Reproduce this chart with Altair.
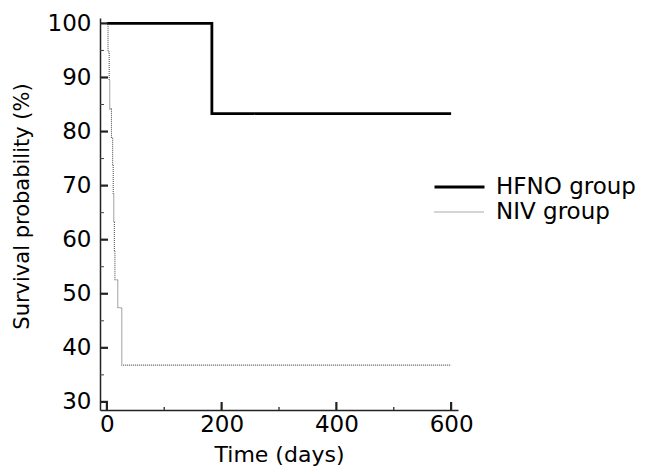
import altair as alt
import pandas as pd

# Kaplan-Meier step data
hfno_time = [0, 183, 600]
hfno_surv = [100.0, 83.3, 83.3]

niv_time = [0, 2, 4, 5, 8, 10, 11, 12, 13, 14, 19, 26, 26, 600]
niv_surv = [100.0, 94.7, 89.5, 84.2, 78.9, 73.7, 68.4, 63.2, 57.9, 52.6, 47.4, 42.1, 36.8, 36.8]

groups = ["HFNO group", "NIV group"]

y_major = [30, 40, 50, 60, 70, 80, 90, 100]
y_minor = [35, 45, 55, 65, 75, 85, 95]
x_major = [0, 200, 400, 600]
x_minor = [100, 300, 500]

rows = []
for t, s in zip(hfno_time, hfno_surv):
    rows.append({"time": t, "surv": s, "group": groups[0]})
for t, s in zip(niv_time, niv_surv):
    rows.append({"time": t, "surv": s, "group": groups[1]})
df = pd.DataFrame(rows)

FONT = "DejaVu Sans"
XDOM = [-12, 612]
YDOM = [28.5, 101]

xscale = alt.Scale(domain=XDOM, nice=False, zero=False)
yscale = alt.Scale(domain=YDOM, nice=False, zero=False)


def leg():
    return alt.Legend(title=None, orient="none", legendX=333, legendY=157,
                      symbolType="stroke", symbolSize=2500, clipHeight=24,
                      labelFontSize=23, labelFont=FONT, labelColor="black",
                      labelOffset=10, rowPadding=1)


lines = alt.Chart(df).mark_line(interpolate="step-after").encode(
    x=alt.X("time:Q", scale=xscale,
            axis=alt.Axis(values=x_major, title="Time (days)", ticks=False,
                          labelFontSize=23, labelPadding=3, labelColor="black",
                          titleFontSize=22, titleFontWeight="normal", titleColor="black",
                          titleBaseline="middle", titleY=44, grid=False,
                          domainColor="#222", domainWidth=1.5, labelFont=FONT, titleFont=FONT)),
    y=alt.Y("surv:Q", scale=yscale,
            axis=alt.Axis(values=y_major, title="Survival probability (%)", ticks=False,
                          labelFontSize=23, labelPadding=9, labelColor="black",
                          titleFontSize=21, titleFontWeight="normal", titleColor="black",
                          titleBaseline="middle", titleX=-78, titleY=188, titleAngle=-90,
                          titleAlign="center", grid=False,
                          domainColor="#222", domainWidth=1.5, labelFont=FONT, titleFont=FONT)),
    color=alt.Color("group:N", scale=alt.Scale(domain=groups, range=["#000000", "#555555"]),
                    legend=leg()),
    strokeDash=alt.StrokeDash("group:N", scale=alt.Scale(domain=groups, range=[[1, 0], [1, 1]]),
                              legend=leg()),
    strokeWidth=alt.StrokeWidth("group:N", scale=alt.Scale(domain=groups, range=[2.8, 1.1]),
                                legend=leg()),
)

ymaj = alt.Chart(pd.DataFrame({"v": y_major})).mark_rule(color="#222", strokeWidth=2.2).encode(
    y=alt.Y("v:Q", scale=yscale), x=alt.value(0), x2=alt.value(8))
ymin = alt.Chart(pd.DataFrame({"v": y_minor})).mark_rule(color="#444", strokeWidth=1).encode(
    y=alt.Y("v:Q", scale=yscale), x=alt.value(0), x2=alt.value(4))
xmaj = alt.Chart(pd.DataFrame({"v": x_major})).mark_rule(color="#222", strokeWidth=2.2).encode(
    x=alt.X("v:Q", scale=xscale), y=alt.value(392), y2=alt.value(384))
xmin = alt.Chart(pd.DataFrame({"v": x_minor})).mark_rule(color="#444", strokeWidth=1.5).encode(
    x=alt.X("v:Q", scale=xscale), y=alt.value(392), y2=alt.value(389))

chart = alt.layer(lines, ymaj, ymin, xmaj, xmin).properties(
    width=358, height=392,
    autosize=alt.AutoSizeParams(type="none"),
    padding={"left": 92, "top": 10, "right": 180, "bottom": 56},
    background="white",
).configure_view(stroke=None)

chart.save("out.html", embed_options={"renderer": "svg", "actions": False})
